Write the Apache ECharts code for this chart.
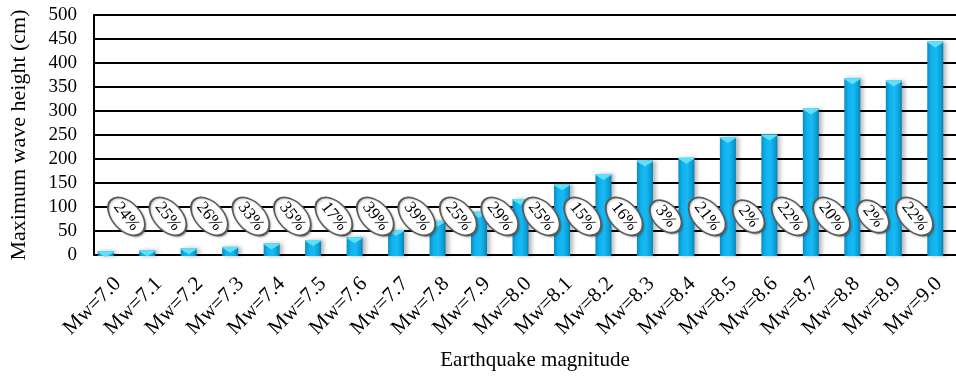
<!DOCTYPE html>
<html><head><meta charset="utf-8">
<script src="https://cdn.jsdelivr.net/npm/echarts@6/dist/echarts.min.js"></script>
<style>html,body{margin:0;padding:0;background:#fff}#c{width:956px;height:376px}</style>
</head><body><div id="c"></div>
<script>
var categories = ["Mw=7.0","Mw=7.1","Mw=7.2","Mw=7.3","Mw=7.4","Mw=7.5","Mw=7.6","Mw=7.7","Mw=7.8","Mw=7.9","Mw=8.0","Mw=8.1","Mw=8.2","Mw=8.3","Mw=8.4","Mw=8.5","Mw=8.6","Mw=8.7","Mw=8.8","Mw=8.9","Mw=9.0"];
var waveHeights = [10,12,16,19,26,33,39,54,73,92,118,149,170,198,204,247,252,306,369,364,445];
var increasePct = [24,25,26,33,35,17,39,39,25,29,25,15,16,3,21,2,22,20,2,22];
var labelLevel = 82;
var yTicks = {min:0, max:500, interval:50};

var FONT = '"Liberation Serif", "Times New Roman", serif';
var ellipsePath = 'path://M0,50 C0,22.4 22.4,0 50,0 C77.6,0 100,22.4 100,50 C100,77.6 77.6,100 50,100 C22.4,100 0,77.6 0,50 Z';

var scatterData = increasePct.map(function(p, i){
  return {value:[i + 0.5, labelLevel], pct:p};
});

var chart = echarts.init(document.getElementById('c'), null, {renderer:'canvas'});
chart.setOption({
  animation:false,
  backgroundColor:'#ffffff',
  grid:[
    {left:85, top:15, width:872, height:241},
    {left:93, top:15, right:0, height:241}
  ],
  xAxis:[
    {type:'category', gridIndex:0, data:categories, show:false},
    {type:'value', gridIndex:0, min:-0.5, max:categories.length-0.5, show:false},
    {type:'category', gridIndex:1, data:categories,
      axisLine:{show:true, lineStyle:{color:'#000', width:2}},
      axisTick:{show:false},
      axisLabel:{rotate:45, align:'right', verticalAlign:'top', margin:14, interval:0,
        padding:[0,6,0,0],
        fontFamily:FONT, fontSize:21, color:'#000'},
      name:'Earthquake magnitude', nameLocation:'middle', nameGap:95,
      nameTextStyle:{fontFamily:FONT, fontSize:21, color:'#000', padding:[0,0,0,20]}
    }
  ],
  yAxis:[
    {type:'value', gridIndex:0, min:yTicks.min, max:yTicks.max, interval:yTicks.interval, show:false},
    {type:'value', gridIndex:1, min:yTicks.min, max:yTicks.max, interval:yTicks.interval,
      axisLine:{show:true, lineStyle:{color:'#000', width:2}},
      axisTick:{show:false},
      splitLine:{show:true, lineStyle:{color:'#000', width:2}},
      axisLabel:{fontFamily:FONT, fontSize:19, color:'#000', margin:17},
      name:'Maximum wave height (cm)', nameLocation:'middle', nameGap:64,
      nameTextStyle:{fontFamily:FONT, fontSize:22, color:'#000'}
    }
  ],
  series:[
    {type:'bar', xAxisIndex:0, yAxisIndex:0, data:waveHeights, barWidth:16, z:3,
      itemStyle:{
        color:new echarts.graphic.LinearGradient(0,0,1,0,[
          {offset:0, color:'#0a8cc0'},
          {offset:0.25, color:'#10b2ee'},
          {offset:0.55, color:'#18baf4'},
          {offset:0.85, color:'#0c9ed6'},
          {offset:1, color:'#087eae'}
        ]),
        shadowColor:'rgba(0,0,0,0.28)', shadowBlur:4, shadowOffsetX:3, shadowOffsetY:0
      }
    },
    {type:'pictorialBar', xAxisIndex:0, yAxisIndex:0, data:waveHeights, z:4,
      symbol:'path://M0,0 L10,0 L10,1 L5,6 L0,1 Z', symbolSize:[16,6],
      symbolPosition:'end',
      itemStyle:{color:'#5fe0fa'}, silent:true
    },
    {type:'scatter', xAxisIndex:1, yAxisIndex:0, data:scatterData, z:6,
      symbol:ellipsePath,
      symbolSize:function(v, p){ return String(p.data.pct).length > 1 ? [45,28] : [38,25]; },
      symbolRotate:-47,
      itemStyle:{color:'#ffffff', opacity:1, borderColor:'#5a5a5a', borderWidth:1.8,
        shadowColor:'rgba(0,0,0,0.2)', shadowBlur:2, shadowOffsetX:1, shadowOffsetY:1},
      label:{show:true, position:'inside', rotate:-52,
        formatter:function(p){ return p.data.pct + '%'; },
        fontFamily:FONT, fontSize:17, color:'#000'}
    }
  ]
});
</script>
</body></html>
